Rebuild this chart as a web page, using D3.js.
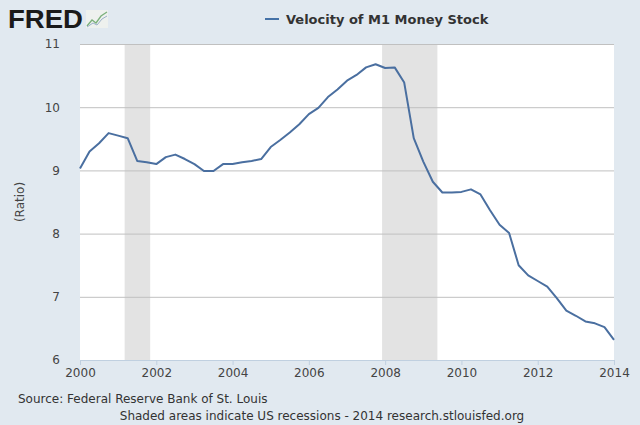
<!DOCTYPE html>
<html lang="en">
<head>
    <meta charset="UTF-8">
    <title>Velocity of M1 Money Stock</title>
    <script src="https://d3js.org/d3.v7.min.js"></script>
    <style>
        body { margin: 0; background: #e1e9f0; }
        svg text { font-family: "DejaVu Sans", Verdana, sans-serif; }
        .tick text { fill: #444; font-size: 12px; }
    </style>
</head>
<body>
    <div id="chart"></div>

    <script>
        // quarterly observations, 2000Q1 .. 2014Q1
        const startYear = 2000;
        const velocity = [
            9.03, 9.30, 9.43, 9.59,
            9.55, 9.51, 9.15, 9.13,
            9.10, 9.21, 9.25, 9.18,
            9.10, 8.99, 8.99, 9.10,
            9.10, 9.13, 9.15, 9.18,
            9.37, 9.48, 9.60, 9.73,
            9.89, 9.99, 10.16, 10.28,
            10.42, 10.51, 10.63, 10.68,
            10.62, 10.63, 10.39, 9.51,
            9.14, 8.82, 8.65, 8.65,
            8.66, 8.70, 8.62, 8.37,
            8.14, 8.01, 7.50, 7.34,
            7.25, 7.16, 6.98, 6.78,
            6.70, 6.61, 6.58, 6.52,
            6.32
        ];
        const recessionStart = [2001.17, 2007.92];
        const recessionEnd = [2001.84, 2009.37];
        const xTicks = [2000, 2002, 2004, 2006, 2008, 2010, 2012, 2014];
        const yTicks = [6, 7, 8, 9, 10, 11];

        const W = 640, H = 425;
        const margin = { top: 44, right: 26, bottom: 65, left: 80 };
        const width = W - margin.left - margin.right,
              height = H - margin.top - margin.bottom;

        const data = velocity.map((v, i) => ({ t: startYear + i / 4, v: v }));

        const svg = d3.select("#chart").append("svg")
            .attr("width", W).attr("height", H);

        svg.append("rect").attr("width", W).attr("height", H).attr("fill", "#e1e9f0");

        // FRED logo
        svg.append("text")
            .attr("x", 8).attr("y", 28)
            .attr("font-size", 26).attr("font-weight", 900)
            .attr("textLength", 75).attr("lengthAdjust", "spacingAndGlyphs")
            .attr("fill", "#1a1a1a")
            .style("font-family", "'Liberation Sans', Arial, sans-serif")
            .text("FRED");
        const logo = svg.append("g").attr("transform", "translate(86,10)");
        logo.append("rect").attr("width", 22).attr("height", 18).attr("fill", "#eef1ee");
        logo.append("path").attr("d", "M1,16 L6,10 L10,13 L15,6 L21,2")
            .attr("fill", "none").attr("stroke", "#7bb07b").attr("stroke-width", 1.3);
        logo.append("path").attr("d", "M1,17 L7,13 L11,15 L16,9 L21,6")
            .attr("fill", "none").attr("stroke", "#9ab0c8").attr("stroke-width", 1);

        // title with legend key
        svg.append("line")
            .attr("x1", 265).attr("x2", 279).attr("y1", 19).attr("y2", 19)
            .attr("stroke", "#4572a7").attr("stroke-width", 2);
        svg.append("text")
            .attr("x", 286).attr("y", 23.5)
            .attr("font-size", 13).attr("font-weight", "bold")
            .attr("fill", "#333")
            .text("Velocity of M1 Money Stock");

        const g = svg.append("g")
            .attr("transform", `translate(${margin.left},${margin.top})`);

        const x = d3.scaleLinear().domain([2000, 2014]).range([0, width]);
        const y = d3.scaleLinear().domain([6, 11]).range([height, 0]);

        g.append("rect").attr("width", width).attr("height", height).attr("fill", "#fff");

        // recession shading
        g.selectAll(".recession")
            .data(recessionStart)
            .enter().append("rect")
            .attr("class", "recession")
            .attr("x", (d) => x(d))
            .attr("y", 0)
            .attr("width", (d, i) => x(recessionEnd[i]) - x(d))
            .attr("height", height)
            .attr("fill", "#e3e3e3");

        // horizontal grid + y labels
        const yAxis = g.append("g")
            .call(d3.axisLeft(y).tickValues(yTicks).tickSize(-width).tickPadding(20).tickFormat(d3.format("d")));
        yAxis.select(".domain").remove();
        yAxis.selectAll(".tick line").attr("stroke", "#c0c0c0");

        // x axis
        const xAxis = g.append("g")
            .attr("transform", `translate(0,${height})`)
            .call(d3.axisBottom(x).tickValues(xTicks).tickSize(5).tickPadding(3).tickFormat(d3.format("d")));
        xAxis.select(".domain").attr("stroke", "#c0d0e0");
        xAxis.selectAll(".tick line").attr("stroke", "#c0d0e0");

        // series
        const line = d3.line().x((d) => x(d.t)).y((d) => y(d.v));
        g.append("path")
            .datum(data)
            .attr("d", line)
            .attr("fill", "none")
            .attr("stroke", "#4a6fa0")
            .attr("stroke-width", 2)
            .attr("stroke-linejoin", "round");

        // y axis title
        svg.append("text")
            .attr("transform", "translate(24,202) rotate(-90)")
            .attr("text-anchor", "middle")
            .attr("font-size", 12)
            .attr("fill", "#444")
            .text("(Ratio)");

        // footer
        svg.append("text")
            .attr("x", 18).attr("y", 403)
            .attr("font-size", 12).attr("fill", "#333")
            .text("Source: Federal Reserve Bank of St. Louis");
        svg.append("text")
            .attr("x", 322).attr("y", 420)
            .attr("text-anchor", "middle")
            .attr("font-size", 12).attr("fill", "#333")
            .text("Shaded areas indicate US recessions - 2014 research.stlouisfed.org");
    </script>
</body>
</html>
